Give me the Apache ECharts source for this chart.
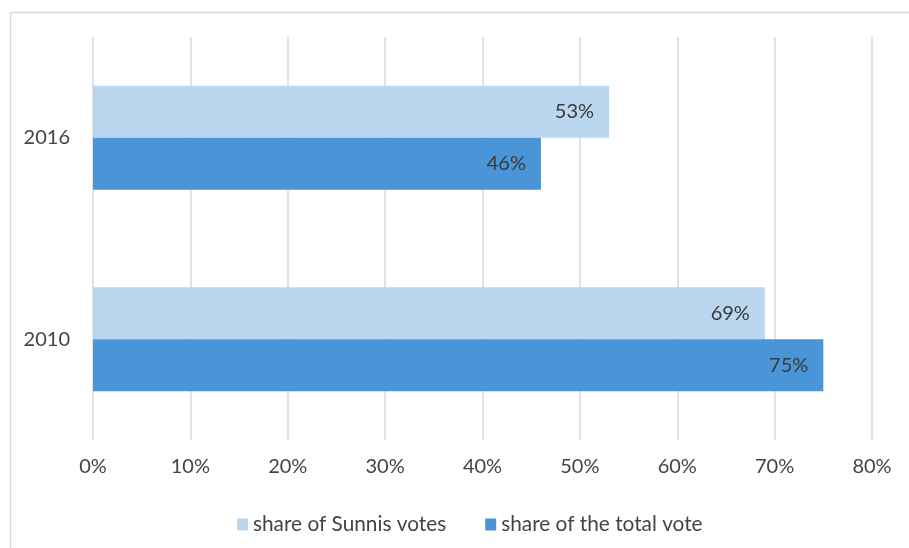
<!DOCTYPE html>
<html>
<head>
<meta charset="utf-8">
<title>Vote shares 2010 and 2016</title>
<script src="https://cdn.jsdelivr.net/npm/echarts@6/dist/echarts.min.js"></script>
<style>
  html, body { margin: 0; padding: 0; background: #ffffff; }
  #chart { width: 909px; height: 548px; }
</style>
</head>
<body>
<div id="chart"></div>
<script>
// Election years (bottom to top on the category axis)
const years = ['2010', '2016'];
// Series names
const seriesNames = ['share of Sunnis votes', 'share of the total vote'];
// Values in percent, per year
const sunniShare = [69, 53];
const totalShare = [75, 46];
// Value axis ticks
const axisMax = 80;
const axisStep = 10;

const FONT = 'Lato, "Open Sans", sans-serif';
const TEXT = '#444444';

const chart = echarts.init(document.getElementById('chart'), null, { renderer: 'canvas' });

const labelStyle = {
  show: true,
  position: 'insideRight',
  distance: 15,
  formatter: p => p.value + '%',
  color: '#3a3a3a',
  fontFamily: FONT,
  fontSize: 20
};

chart.setOption({
  animation: false,
  backgroundColor: '#ffffff',
  graphic: [{
    type: 'rect',
    left: 8,
    top: 10,
    shape: { width: 940, height: 580 },
    style: { fill: 'none', stroke: '#d9d9d9', lineWidth: 1.5 },
    silent: true,
    z: -10
  }],
  grid: { left: 93, right: 37, top: 37, bottom: 108, containLabel: false },
  legend: {
    top: 509,
    left: 232,
    itemWidth: 11,
    itemHeight: 12,
    itemGap: 39,
    icon: 'rect',
    textStyle: { color: TEXT, fontFamily: FONT, fontSize: 20.8 },
    data: seriesNames
  },
  xAxis: {
    type: 'value',
    min: 0,
    max: axisMax,
    interval: axisStep,
    axisLine: { show: false },
    axisTick: { show: false },
    splitLine: { show: true, lineStyle: { color: '#d9d9d9', width: 1.5 } },
    axisLabel: {
      margin: 17,
      color: TEXT,
      fontFamily: FONT,
      fontSize: 20,
      formatter: v => v + '%'
    }
  },
  yAxis: {
    type: 'category',
    data: years,
    axisLine: { show: false },
    axisTick: { show: false },
    axisLabel: { margin: 23, color: TEXT, fontFamily: FONT, fontSize: 20 }
  },
  series: [
    {
      name: seriesNames[0],
      type: 'bar',
      data: sunniShare,
      barWidth: 52,
      barGap: '0%',
      itemStyle: { color: '#bad7ef' },
      label: labelStyle
    },
    {
      name: seriesNames[1],
      type: 'bar',
      data: totalShare,
      barWidth: 52,
      barGap: '0%',
      itemStyle: { color: '#4a95d7' },
      label: labelStyle
    }
  ]
});
</script>
</body>
</html>
